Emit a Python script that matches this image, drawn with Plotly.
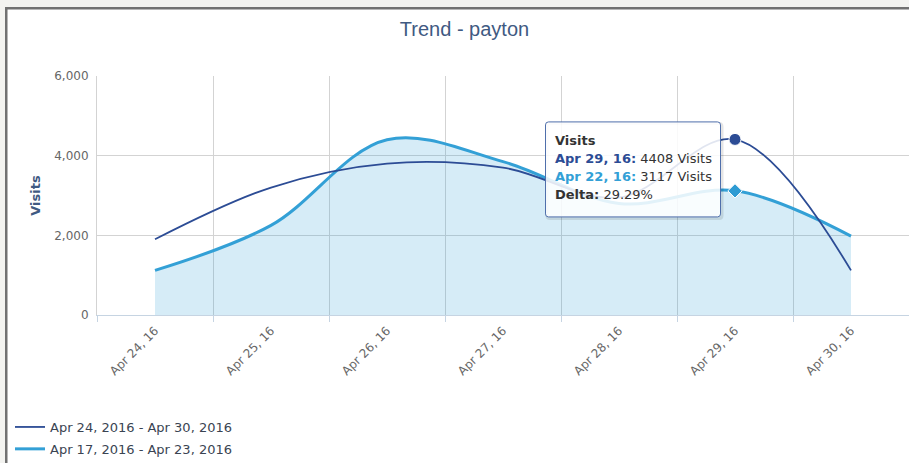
import plotly.graph_objects as go

# ---------------- data ----------------
categories = ["Apr 24, 16", "Apr 25, 16", "Apr 26, 16", "Apr 27, 16",
              "Apr 28, 16", "Apr 29, 16", "Apr 30, 16"]
prev_categories = ["Apr 17, 16", "Apr 18, 16", "Apr 19, 16", "Apr 20, 16",
                   "Apr 21, 16", "Apr 22, 16", "Apr 23, 16"]
current_visits = [1900, 3200, 3800, 3700, 2950, 4408, 1120]
previous_visits = [1120, 2250, 4400, 3850, 2800, 3117, 1980]
current_name = "Apr 24, 2016 - Apr 30, 2016"
previous_name = "Apr 17, 2016 - Apr 23, 2016"
y_ticks = [0, 2000, 4000, 6000]
hover_idx = 5

DARK = "#2c4c95"
LIGHT = "#33a0d6"
FILL = "rgba(51,160,214,0.20)"
GRID = "#d3d3d3"
AXIS = "#c6d4e2"
TEXT = "#666666"
TITLE_C = "#3f5a82"
FONT = "DejaVu Sans, Verdana, sans-serif"

W, H = 909, 463
L, R, T, B = 97, 0, 76, 148
PW = W - L - R
PH = H - T - B


def px_x(px):
    return (px - L) / PW


def px_y(py):
    return (H - B - py) / PH


xs = list(range(len(categories)))
SMOOTH = 1.0

fig = go.Figure()

# area under the previous-period series
fig.add_trace(go.Scatter(
    x=xs, y=previous_visits, mode="lines", showlegend=False,
    line=dict(color="rgba(0,0,0,0)", width=0, shape="spline", smoothing=SMOOTH),
    fill="tozeroy", fillcolor=FILL,
))
fig.add_trace(go.Scatter(
    x=xs, y=previous_visits, name=previous_name, mode="lines",
    line=dict(color=LIGHT, width=3, shape="spline", smoothing=SMOOTH),
    legendrank=2, legendgroup="b",
))
fig.add_trace(go.Scatter(
    x=xs, y=current_visits, name=current_name, mode="lines",
    line=dict(color=DARK, width=1.8, shape="spline", smoothing=SMOOTH),
    legendrank=1, legendgroup="a",
))
# hover markers
fig.add_trace(go.Scatter(
    x=[xs[hover_idx]], y=[previous_visits[hover_idx]], mode="markers",
    marker=dict(symbol="diamond", size=11, color="#2e9bd3",
                line=dict(color="white", width=1)),
    showlegend=False,
))
fig.add_trace(go.Scatter(
    x=[xs[hover_idx]], y=[current_visits[hover_idx]], mode="markers",
    marker=dict(symbol="circle", size=12, color=DARK,
                line=dict(color="white", width=1)),
    showlegend=False,
))

# ---------------- frame decoration ----------------
shapes = []
bg_out = "#f3f3f0"
border = "#717171"
shapes.append(dict(type="rect", xref="paper", yref="paper", layer="below",
                   x0=px_x(0), x1=px_x(5), y0=px_y(H), y1=px_y(0),
                   fillcolor=bg_out, line=dict(width=0)))
shapes.append(dict(type="rect", xref="paper", yref="paper", layer="below",
                   x0=px_x(0), x1=px_x(W), y0=px_y(7), y1=px_y(0),
                   fillcolor=bg_out, line=dict(width=0)))
shapes.append(dict(type="rect", xref="paper", yref="paper", layer="below",
                   x0=px_x(5), x1=px_x(7.5), y0=px_y(H), y1=px_y(7),
                   fillcolor=border, line=dict(width=0)))
shapes.append(dict(type="rect", xref="paper", yref="paper", layer="below",
                   x0=px_x(5), x1=px_x(W), y0=px_y(9.5), y1=px_y(7),
                   fillcolor=border, line=dict(width=0)))

# ---------------- tooltip ----------------
def rounded(x0, x1, y0, y1, r):
    return (f"M{x0 + r},{y1} L{x1 - r},{y1} Q{x1},{y1} {x1},{y1 - r} "
            f"L{x1},{y0 + r} Q{x1},{y0} {x1 - r},{y0} L{x0 + r},{y0} "
            f"Q{x0},{y0} {x0},{y0 + r} L{x0},{y1 - r} Q{x0},{y1} {x0 + r},{y1} Z")


bx0, bx1, by0, by1 = -189.5, -14.5, -77.5, 17.5
anchor = dict(xref="x", yref="y", xsizemode="pixel", ysizemode="pixel",
              xanchor=xs[hover_idx], yanchor=current_visits[hover_idx])
shapes.append(dict(type="path", layer="above",
                   path=rounded(bx0 + 1.5, bx1 + 1.5, by0 - 1.5, by1 - 1.5, 3),
                   line=dict(color="rgba(0,0,0,0.10)", width=3),
                   fillcolor="rgba(0,0,0,0)", **anchor))
shapes.append(dict(type="path", layer="above",
                   path=rounded(bx0, bx1, by0, by1, 3),
                   line=dict(color="#4f6fab", width=1),
                   fillcolor="rgba(255,255,255,0.86)", **anchor))

cur = current_visits[hover_idx]
prev = previous_visits[hover_idx]
delta = (cur - prev) / cur * 100
tip_lines = [
    "<b>Visits</b>",
    f"<span style='color:{DARK}'><b>{categories[hover_idx]}:</b></span> {cur} Visits",
    f"<span style='color:{LIGHT}'><b>{prev_categories[hover_idx]}:</b></span> {prev} Visits",
    f"<b>Delta:</b> {delta:.2f}%",
]
tip_shifts = [-1.5, -19.5, -37.3, -55]
annotations = []
for txt, ys in zip(tip_lines, tip_shifts):
    annotations.append(dict(
        xref="x", yref="y", x=xs[hover_idx], y=current_visits[hover_idx],
        xanchor="left", yanchor="middle", xshift=-182, yshift=ys,
        text=txt, showarrow=False, align="left",
        font=dict(family=FONT, size=13, color="#333333"),
    ))

fig.update_layout(
    width=W, height=H,
    margin=dict(l=L, r=R, t=T, b=B, autoexpand=False),
    paper_bgcolor="white", plot_bgcolor="white",
    hovermode=False,
    title=dict(text="Trend - payton", x=464.5 / W, xanchor="center",
               y=1 - 29 / H, yanchor="middle", xref="container", yref="container",
               font=dict(family="Liberation Sans Narrow, Arial Narrow, Liberation Sans, sans-serif",
                         size=20, color=TITLE_C)),
    xaxis=dict(
        range=[-0.5, len(categories) - 0.5],
        tickmode="array", tickvals=xs, ticktext=categories,
        tickangle=-45, ticks="", showgrid=False, zeroline=False,
        tickfont=dict(family=FONT, size=12, color=TEXT),
        ticklabelstandoff=3,
        showline=True, linecolor=AXIS, linewidth=1,
        minor=dict(tick0=0.5, dtick=1, showgrid=True, gridcolor=GRID,
                   gridwidth=1, ticks="outside", ticklen=6, tickcolor=AXIS),
    ),
    yaxis=dict(
        range=[0, 6000], tickmode="array", tickvals=y_ticks,
        tickformat=",", showgrid=True, gridcolor=GRID, gridwidth=1,
        zeroline=False, showline=True, linecolor=GRID, linewidth=1,
        tickfont=dict(family=FONT, size=12, color=TEXT),
        ticklabelstandoff=5,
        title=dict(text="<b>Visits</b>", standoff=10,
                   font=dict(family=FONT, size=13, color=TITLE_C)),
    ),
    legend=dict(
        xref="paper", yref="paper", x=px_x(10), y=px_y(412),
        xanchor="left", yanchor="top", orientation="v",
        font=dict(family=FONT, size=13, color="#3a4452"),
        bgcolor="rgba(0,0,0,0)", tracegroupgap=2,
    ),
    shapes=shapes,
    annotations=annotations,
)

fig.write_html("out.html", config={"displayModeBar": False},
               post_script="document.body.style.margin='0';")
